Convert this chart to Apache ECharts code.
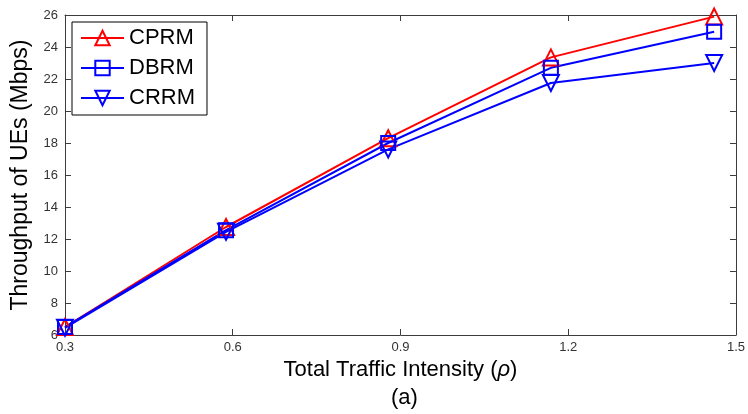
<!DOCTYPE html>
<html>
<head>
<meta charset="UTF-8">
<title>Throughput</title>
<script src="https://cdn.jsdelivr.net/npm/echarts@6/dist/echarts.min.js"></script>
<style>
  html, body { margin: 0; padding: 0; background: #fff; }
  #main { width: 748px; height: 414px; }
</style>
</head>
<body>
<div id="main"></div>
<script type="text/javascript">
  // traffic intensity (x) and throughput (Mbps) for each scheme
  var rho = [0.3, 0.588, 0.878, 1.169, 1.461];
  var cprm = [6.5, 12.75, 18.3, 23.35, 25.9];
  var dbrm = [6.5, 12.55, 18.0, 22.7, 24.95];
  var crrm = [6.45, 12.45, 17.6, 21.75, 23.0];
  var xTicks = [0.3, 0.6, 0.9, 1.2, 1.5];

  var FONT = 'Liberation Sans, Arial, sans-serif';
  var AXIS = '#3c3c3c';

  function pairs(ys) {
    var res = [];
    for (var i = 0; i < rho.length; i++) {
      res.push([rho[i], ys[i]]);
    }
    return res;
  }

  function mkSeries(name, ys, color, symbol, rotate) {
    return {
      name: name,
      type: 'line',
      data: pairs(ys),
      symbol: symbol,
      symbolSize: symbol == 'rect' ? 14 : 16,
      symbolRotate: rotate,
      showAllSymbol: true,
      animation: false,
      lineStyle: { color: color, width: 2 },
      itemStyle: { color: 'rgba(255,255,255,0)', borderColor: color, borderWidth: 2 }
    };
  }

  var chart = echarts.init(document.getElementById('main'));
  chart.setOption({
    animation: false,
    grid: { left: 65, right: 9, top: 15, bottom: 79 },
    legend: {
      orient: 'vertical',
      left: 72,
      top: 22,
      padding: [5, 12, 6, 8],
      itemGap: 8,
      itemWidth: 43,
      itemHeight: 18,
      backgroundColor: '#fff',
      borderColor: '#000',
      borderWidth: 1,
      textStyle: { fontFamily: FONT, fontSize: 22, color: '#000' },
      data: ['CPRM', 'DBRM', 'CRRM']
    },
    xAxis: [{
      type: 'value',
      min: 0.3,
      max: 1.5,
      interval: 0.3,
      name: '{n|Total Traffic Intensity (}{r|ρ}{n|)}',
      nameLocation: 'middle',
      nameGap: 24,
      nameTextStyle: {
        rich: {
          n: { fontFamily: FONT, fontSize: 22, color: '#000' },
          r: { fontFamily: FONT, fontSize: 22, fontStyle: 'italic', color: '#000' }
        }
      },
      axisLine: { lineStyle: { color: AXIS, width: 1 } },
      axisTick: { inside: true, length: 6, lineStyle: { color: AXIS } },
      axisLabel: {
        fontFamily: FONT, fontSize: 13, color: '#333', margin: 6,
        formatter: function (v) { return v.toFixed(1); }
      },
      splitLine: { show: false }
    }, {
      type: 'value',
      position: 'top',
      min: 0.3,
      max: 1.5,
      interval: 0.3,
      axisLine: { lineStyle: { color: AXIS, width: 1 } },
      axisTick: { inside: true, length: 6, lineStyle: { color: AXIS } },
      axisLabel: { show: false },
      splitLine: { show: false }
    }],
    yAxis: [{
      type: 'value',
      min: 6,
      max: 26,
      interval: 2,
      name: 'Throughput of UEs (Mbps)',
      nameLocation: 'middle',
      nameGap: 22,
      nameTextStyle: { fontFamily: FONT, fontSize: 23, color: '#000' },
      axisLine: { show: true, lineStyle: { color: AXIS, width: 1 } },
      axisTick: { show: true, inside: true, length: 6, lineStyle: { color: AXIS } },
      axisLabel: { fontFamily: FONT, fontSize: 13, color: '#333', margin: 7 },
      splitLine: { show: false }
    }, {
      type: 'value',
      position: 'right',
      min: 6,
      max: 26,
      interval: 2,
      axisLine: { show: true, lineStyle: { color: AXIS, width: 1 } },
      axisTick: { show: true, inside: true, length: 6, lineStyle: { color: AXIS } },
      axisLabel: { show: false },
      splitLine: { show: false }
    }],
    graphic: [{
      type: 'text',
      left: 391,
      top: 387,
      style: { text: '(a)', font: '22px ' + FONT, fill: '#000' }
    }],
    series: [
      mkSeries('CPRM', cprm, '#ff0000', 'triangle', 0),
      mkSeries('DBRM', dbrm, '#0000ff', 'rect', 0),
      mkSeries('CRRM', crrm, '#0000ff', 'triangle', 180)
    ]
  });
</script>
</body>
</html>
